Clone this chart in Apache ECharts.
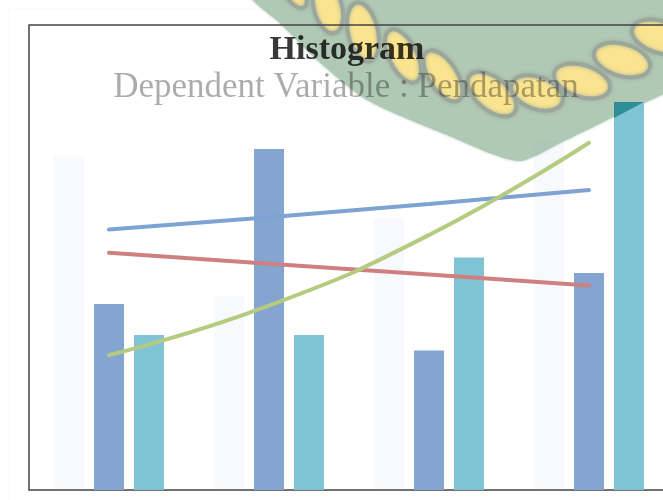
<!DOCTYPE html>
<html>
<head>
<meta charset="utf-8">
<style>html,body{margin:0;padding:0;background:#fff;overflow:hidden;width:663px;height:500px}#c{width:700px;height:500px;filter:blur(0.45px)}</style>
<script src="https://cdn.jsdelivr.net/npm/echarts@6/dist/echarts.min.js"></script>
</head>
<body>
<div id="c"></div>
<script>
const categories = ['1', '2', '3', '4'];
const barPale = [21.5, 12.5, 17.5, 22.5];
const barBlue = [12, 22, 9, 14];
const barTeal = [10, 10, 15, 25];
const lineBlue = [16.8, 17.6, 18.45, 19.35];
const lineRed = [15.3, 14.6, 13.9, 13.2];
const lineGreen = [8.7, 11.9, 16.45, 22.4];
const titleText = 'Histogram';
const subtitleText = 'Dependent Variable : Pendapatan';

// watermark decoration: [cx, cy, rx, ry, rotation]
const petals = [
  [296, -4, 14, 8, -0.9],
  [328, 8, 26, 14, -1.3],
  [363, 32, 30, 15, -1.35],
  [403, 56, 29, 14, -1.1],
  [443, 76, 29, 14, -1.0],
  [492, 94, 29, 16, -0.7],
  [537, 93, 27, 16, -0.35],
  [582, 81, 29, 16, -0.3],
  [622, 60, 29, 16, -0.28],
  [660, 37, 29, 16, -0.3]
];

const graphic = [
  {type:'rect', z:-12, silent:true, shape:{x:9,y:9,width:680,height:500}, style:{fill:'none',stroke:'#f8f8f8',lineWidth:1}},
  {type:'polygon', z:-11, silent:true, shape:{smooth:0.25, points:[[252,-5],[282,25],[317,60],[367,100],[447,135],[518,161],[560,143],[613,117],[700,70],[700,-5]]}, style:{fill:'#b0c9b4', shadowBlur:3, shadowColor:'#b0c9b4'}}
];
petals.forEach(p => {
  graphic.push({type:'ellipse', z:-10, silent:true, x:p[0], y:p[1], rotation:p[4], shape:{cx:0,cy:0,rx:p[2],ry:p[3]},
    style:{fill:'#fbe48f', stroke:'#9aa79a', lineWidth:4, shadowBlur:4, shadowColor:'#a3b0a3'}});
});
graphic.push({type:'polygon', z:5, silent:true, shape:{points:[[614,102],[644,102],[614,118]]}, style:{fill:'#2f8d96'}});

const barBase = {type:'bar', barWidth:30, barGap:'33.33%'};
const lineBase = {type:'line', symbol:'none', silent:true, z:4};
const chart = echarts.init(document.getElementById('c'), null, {renderer:'canvas'});
chart.setOption({
  animation:false,
  backgroundColor:'#fff',
  title:[
    {text:titleText, left:342, top:28, textAlign:'center', textStyle:{fontFamily:'Liberation Serif', fontWeight:'bold', fontSize:34, color:'rgba(0,0,0,0.78)'}},
    {text:subtitleText, left:341, top:65, textAlign:'center', textStyle:{fontFamily:'Liberation Serif', fontWeight:'normal', fontSize:35, color:'rgba(0,0,0,0.33)'}}
  ],
  grid:{left:29, top:25, width:640, height:465, show:true, borderColor:'#444', borderWidth:1.5, backgroundColor:'transparent'},
  xAxis:{type:'category', data:categories, axisLine:{show:false}, axisTick:{show:false}, axisLabel:{show:false}},
  yAxis:{type:'value', min:0, max:30, axisLine:{show:false}, axisTick:{show:false}, axisLabel:{show:false}, splitLine:{show:false}},
  graphic:{elements:graphic},
  series:[
    Object.assign({}, barBase, {data:barPale, itemStyle:{color:'rgba(132,165,207,0.065)'}}),
    Object.assign({}, barBase, {data:barBlue, itemStyle:{color:'#84a5cf'}}),
    Object.assign({}, barBase, {data:barTeal, itemStyle:{color:'#7fc3d5'}}),
    Object.assign({}, lineBase, {data:lineBlue, lineStyle:{color:'#7ea2d2', width:4, cap:'round'}}),
    Object.assign({}, lineBase, {data:lineRed, lineStyle:{color:'#cf7f7f', width:4, cap:'round'}}),
    Object.assign({}, lineBase, {data:lineGreen, smooth:0.5, lineStyle:{color:'#b4cb80', width:4, cap:'round'}})
  ]
});
</script>
</body>
</html>
